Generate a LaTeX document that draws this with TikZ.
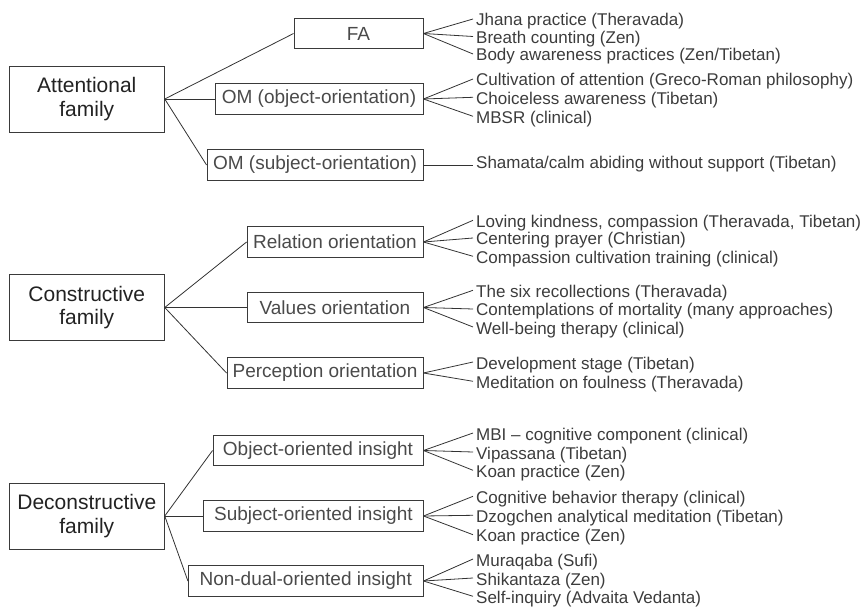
\documentclass[tikz,border=0pt]{standalone}
\usepackage{fontspec}
\setmainfont{Liberation Sans}
\usetikzlibrary{calc}
\definecolor{ink}{HTML}{333333}
\definecolor{boxline}{HTML}{3a3a3a}
\definecolor{famtext}{HTML}{222222}
\definecolor{midtext}{HTML}{4a4a4a}
\definecolor{leaftext}{HTML}{3c3c3c}
\tikzset{
  famnode/.style={draw=boxline, line width=0.9pt, minimum width=155pt, minimum height=66pt,
    inner sep=0pt, align=center, text=famtext,
    font=\fontsize{21}{23.5}\selectfont},
  midnode/.style={draw=boxline, line width=0.9pt, minimum height=30.5pt, inner sep=0pt,
    text=midtext, font=\fontsize{19}{22}\selectfont},
  leafnode/.style={anchor=base west, inner sep=0pt, text=leaftext,
    font=\fontsize{17}{20}\selectfont},
  conn/.style={draw=ink, line width=0.8pt},
}
% end of a fan branch, just left of a leaf text
\newcommand{\fanend}[1]{($(#1.base west)+(-3,-7)$)}
\begin{document}
\begin{tikzpicture}[x=1pt, y=-1pt]
\useasboundingbox (0,0) rectangle (861,609);

% ---------------- Attentional family ----------------
\node[famnode] (att) at (86.8,99) {Attentional\\family};
\node[midnode, minimum width=129pt] (fa)  at (358.5,33.5) {FA};
\node[midnode, minimum width=208pt] (omo) at (319,99) {OM (object-orientation)};
\node[midnode, minimum width=216pt] (oms) at (315,165) {OM (subject-orientation)};
\draw[conn] (att.east) -- (fa.west);
\draw[conn] (att.east) -- (omo.west);
\draw[conn] (att.east) -- (oms.west);

\node[leafnode] (a1) at (476,26)    {Jhana practice (Theravada)};
\node[leafnode] (a2) at (476,43.5)  {Breath counting (Zen)};
\node[leafnode] (a3) at (476,61)    {Body awareness practices (Zen/Tibetan)};
\node[leafnode] (a4) at (476,86)    {Cultivation of attention (Greco-Roman philosophy)};
\node[leafnode] (a5) at (476,104.3) {Choiceless awareness (Tibetan)};
\node[leafnode] (a6) at (476,123.3) {MBSR (clinical)};
\node[leafnode] (a7) at (476,168.3) {Shamata/calm abiding without support (Tibetan)};
\foreach \l in {a1,a2,a3} \draw[conn] (fa.east) -- \fanend{\l};
\foreach \l in {a4,a5,a6} \draw[conn] (omo.east) -- \fanend{\l};
\draw[conn] (oms.east) -- ([xshift=-3pt]oms.east -| a7.west);

% ---------------- Constructive family ----------------
\node[famnode] (con) at (86.8,307.5) {Constructive\\family};
\node[midnode, minimum width=176pt] (rel) at (335,242)   {Relation orientation};
\node[midnode, minimum width=176pt] (val) at (335,307.5) {Values orientation};
\node[midnode, minimum width=196pt] (per) at (325,373)   {Perception orientation};
\draw[conn] (con.east) -- (rel.west);
\draw[conn] (con.east) -- (val.west);
\draw[conn] (con.east) -- (per.west);

\node[leafnode] (b1) at (476,227.3) {Loving kindness, compassion (Theravada, Tibetan)};
\node[leafnode] (b2) at (476,245)   {Centering prayer (Christian)};
\node[leafnode] (b3) at (476,263.3) {Compassion cultivation training (clinical)};
\node[leafnode] (b4) at (476,297.3) {The six recollections (Theravada)};
\node[leafnode] (b5) at (476,316)   {Contemplations of mortality (many approaches)};
\node[leafnode] (b6) at (476,334)   {Well-being therapy (clinical)};
\node[leafnode] (b7) at (476,369)   {Development stage (Tibetan)};
\node[leafnode] (b8) at (476,388.3) {Meditation on foulness (Theravada)};
\foreach \l in {b1,b2,b3} \draw[conn] (rel.east) -- \fanend{\l};
\foreach \l in {b4,b5,b6} \draw[conn] (val.east) -- \fanend{\l};
\foreach \l in {b7,b8} \draw[conn] (per.east) -- \fanend{\l};

% ---------------- Deconstructive family ----------------
\node[famnode] (dec) at (86.8,516) {Deconstructive\\family};
\node[midnode, minimum width=210pt] (obj) at (318,450.5)  {Object-oriented insight};
\node[midnode, minimum width=219.3pt] (sub) at (313.4,516) {Subject-oriented insight};
\node[midnode, minimum width=234.7pt] (ndu) at (305.7,581) {Non-dual-oriented insight};
\draw[conn] (dec.east) -- (obj.west);
\draw[conn] (dec.east) -- (sub.west);
\draw[conn] (dec.east) -- (ndu.west);

\node[leafnode] (c1) at (476,440)   {MBI – cognitive component (clinical)};
\node[leafnode] (c2) at (476,459)   {Vipassana (Tibetan)};
\node[leafnode] (c3) at (476,477.3) {Koan practice (Zen)};
\node[leafnode] (c4) at (476,503.3) {Cognitive behavior therapy (clinical)};
\node[leafnode] (c5) at (476,522.3) {Dzogchen analytical meditation (Tibetan)};
\node[leafnode] (c6) at (476,541.7) {Koan practice (Zen)};
\node[leafnode] (c7) at (476,566)   {Muraqaba (Sufi)};
\node[leafnode] (c8) at (476,585)   {Shikantaza (Zen)};
\node[leafnode] (c9) at (476,603.3) {Self-inquiry (Advaita Vedanta)};
\foreach \l in {c1,c2,c3} \draw[conn] (obj.east) -- \fanend{\l};
\foreach \l in {c4,c5,c6} \draw[conn] (sub.east) -- \fanend{\l};
\foreach \l in {c7,c8,c9} \draw[conn] (ndu.east) -- \fanend{\l};
\end{tikzpicture}
\end{document}
